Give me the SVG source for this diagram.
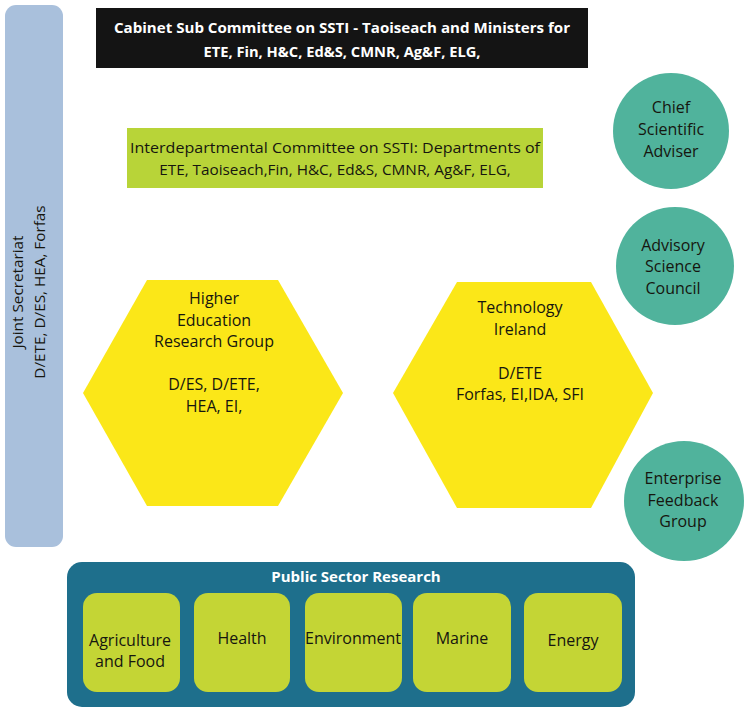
<svg xmlns="http://www.w3.org/2000/svg" width="745" height="709" viewBox="0 0 745 709">
  <style>
    text { font-family: "Open Sans", "Noto Sans", "Liberation Sans", sans-serif; text-anchor: middle; }
    .lbl { font-size: 16px; fill: #16160f; }
    .sm { font-size: 15.3px; fill: #16160f; }
    .hdr { font-size: 14.7px; font-weight: bold; fill: #ffffff; }
    .circle { fill: #50b39c; }
    .hex { fill: #fbe718; }
    .unit { fill: #c4d535; }
  </style>

  <rect width="745" height="709" fill="#ffffff"/>

  <!-- vertical secretariat bar -->
  <g id="joint-secretariat">
    <rect x="5" y="5" width="58" height="542" rx="11" fill="#a9c0dc"/>
    <g transform="translate(29,292) rotate(-90)">
      <text class="sm" x="0" y="-6">Joint Secretariat</text>
      <text class="sm" x="0" y="16">D/ETE, D/ES, HEA, Forfas</text>
    </g>
  </g>

  <g id="cabinet-sub-committee">
    <rect x="96" y="8" width="492" height="60" fill="#141414"/>
    <text class="hdr" x="342" y="33" textLength="456" lengthAdjust="spacingAndGlyphs">Cabinet Sub Committee on SSTI - Taoiseach and Ministers for</text>
    <text class="hdr" x="342" y="57">ETE, Fin, H&amp;C, Ed&amp;S, CMNR, Ag&amp;F, ELG,</text>
  </g>

  <g id="interdepartmental-committee">
    <rect x="127" y="128" width="416" height="60" fill="#b8d438"/>
    <text class="sm" x="335" y="153" textLength="410" lengthAdjust="spacingAndGlyphs">Interdepartmental Committee on SSTI: Departments of</text>
    <text class="sm" x="335" y="175">ETE, Taoiseach,Fin, H&amp;C, Ed&amp;S, CMNR, Ag&amp;F, ELG,</text>
  </g>

  <g id="chief-scientific-adviser">
    <circle class="circle" cx="671" cy="131" r="58"/>
    <text class="lbl" x="671" y="113">Chief</text>
    <text class="lbl" x="671" y="135">Scientific</text>
    <text class="lbl" x="671" y="157">Adviser</text>
  </g>

  <g id="advisory-science-council">
    <circle class="circle" cx="675" cy="266" r="59"/>
    <text class="lbl" x="673" y="251">Advisory</text>
    <text class="lbl" x="673" y="272">Science</text>
    <text class="lbl" x="673" y="294">Council</text>
  </g>

  <g id="enterprise-feedback-group">
    <circle class="circle" cx="684" cy="501" r="60"/>
    <text class="lbl" x="683" y="484">Enterprise</text>
    <text class="lbl" x="683" y="506">Feedback</text>
    <text class="lbl" x="683" y="527">Group</text>
  </g>

  <g id="higher-education-research-group">
    <polygon class="hex" points="147,280 278,280 343,393 278,506 147,506 83,393"/>
    <text class="lbl" x="214" y="304">Higher</text>
    <text class="lbl" x="214" y="326">Education</text>
    <text class="lbl" x="214" y="347">Research Group</text>
    <text class="lbl" x="214" y="390">D/ES, D/ETE,</text>
    <text class="lbl" x="214" y="412">HEA, EI,</text>
  </g>

  <g id="technology-ireland">
    <polygon class="hex" points="457,282 591,282 653,393 591,508 457,508 393,393"/>
    <text class="lbl" x="520" y="313">Technology</text>
    <text class="lbl" x="520" y="335">Ireland</text>
    <text class="lbl" x="520" y="379">D/ETE</text>
    <text class="lbl" x="520" y="400">Forfas, EI,IDA, SFI</text>
  </g>

  <g id="public-sector-research">
    <rect x="67" y="562" width="568" height="145" rx="15" fill="#1e6f8c"/>
    <text class="hdr" x="356" y="582" style="font-size:15px">Public Sector Research</text>
    <g id="agriculture-and-food">
      <rect class="unit" x="83" y="593" width="97" height="99" rx="14"/>
      <text class="lbl" x="130" y="646">Agriculture</text>
      <text class="lbl" x="130" y="667">and Food</text>
    </g>
    <g id="health">
      <rect class="unit" x="194" y="593" width="96" height="99" rx="14"/>
      <text class="lbl" x="242" y="644">Health</text>
    </g>
    <g id="environment">
      <rect class="unit" x="305" y="593" width="97" height="99" rx="14"/>
      <text class="lbl" x="353" y="644">Environment</text>
    </g>
    <g id="marine">
      <rect class="unit" x="413" y="593" width="98" height="99" rx="14"/>
      <text class="lbl" x="462" y="644">Marine</text>
    </g>
    <g id="energy">
      <rect class="unit" x="524" y="593" width="98" height="99" rx="14"/>
      <text class="lbl" x="573" y="646">Energy</text>
    </g>
  </g>

  <!-- no connectors are drawn between the bodies -->
  <g id="connectors"/>
</svg>
